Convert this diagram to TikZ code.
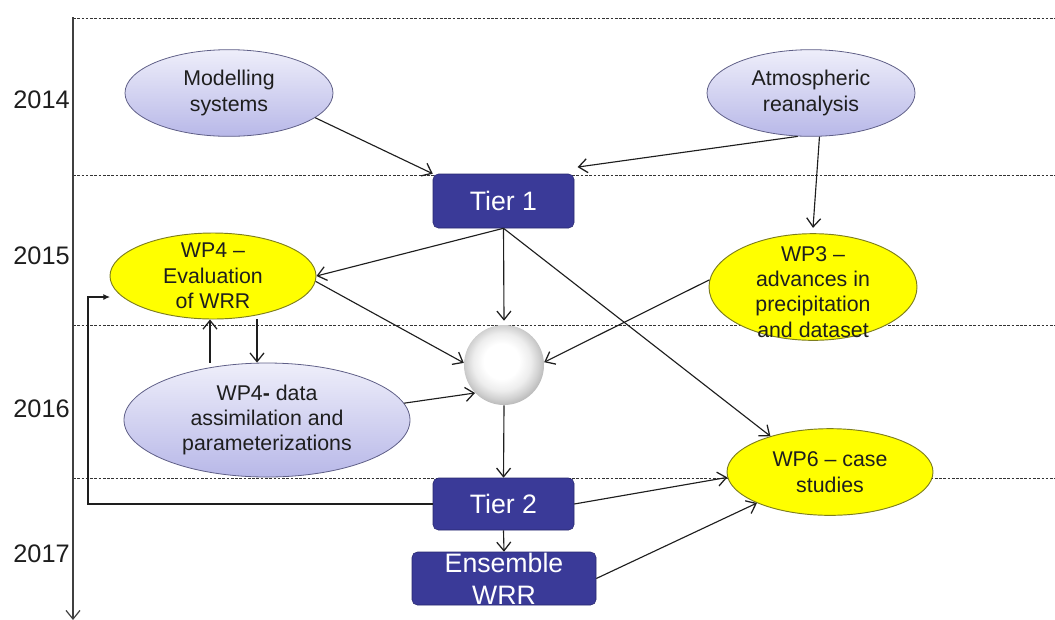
\documentclass[tikz,border=0pt]{standalone}
\usepackage{fontspec}
\setmainfont{Liberation Sans}
\usetikzlibrary{shapes.geometric,arrows.meta,calc}

\definecolor{tierblue}{RGB}{58,58,152}
\definecolor{tierline}{RGB}{40,40,110}
\definecolor{lavtop}{RGB}{238,238,250}
\definecolor{lavbot}{RGB}{184,184,232}
\definecolor{lavline}{RGB}{95,95,135}
\definecolor{wpyellow}{RGB}{255,255,0}
\definecolor{wpline}{RGB}{125,125,30}
\definecolor{ink}{RGB}{30,30,30}

% soft white sphere: white core, pale grey rim (path box = 50bp square)
\pgfdeclareradialshading{softball}{\pgfpoint{-2bp}{3bp}}{%
  color(0bp)=(white); color(11bp)=(white); color(18bp)=(black!7);
  color(23bp)=(black!18); color(26bp)=(black!26); color(50bp)=(black!26)}

\begin{document}
\begin{tikzpicture}[x=0.75pt,y=-0.75pt,
  every node/.style={font=\fontsize{16}{19}\selectfont, text=ink},
  lav/.style={ellipse, draw=lavline, line width=0.6pt, top color=lavtop, bottom color=lavbot, inner sep=0pt},
  wp/.style={ellipse, draw=wpline, line width=0.7pt, fill=wpyellow, inner sep=0pt},
  tier/.style={draw=tierline, fill=tierblue, rounded corners=4pt, inner sep=0pt,
    text=white, font=\fontsize{20}{24}\selectfont, align=center},
  ball/.style={circle, inner sep=0pt, minimum size=60pt, shading=softball},
  grid/.style={dash pattern=on 2pt off 1.2pt, draw=black!80, line width=0.7pt},
  arr/.style={-{Straight Barb[length=6.5pt,width=10.5pt,line width=0.95pt]}, line width=0.85pt, draw=ink},
  fback/.style={-{Latex[length=5pt,width=4.5pt]}, line width=0.8pt, draw=ink},
  axisline/.style={-{Straight Barb[length=6.5pt,width=10.5pt,line width=0.9pt]}, line width=0.8pt, draw=black!75},
  year/.style={font=\fontsize{19}{22}\selectfont, anchor=east, inner sep=0pt},
]
\useasboundingbox (0,0) rectangle (1055,619);

% year bands
\foreach \yy in {18,175,325,478}
  \draw[grid] (73,\yy) -- (1055,\yy);

% time axis
\coordinate (axtop) at (73,17);
\coordinate (axbot) at (73,620);
\draw[axisline] (axtop) -- (axbot);

\node[year] (y14) at (70,100) {2014};
\node[year] (y15) at (70,256) {2015};
\node[year] (y16) at (70,409) {2016};
\node[year] (y17) at (70,554) {2017};

% inputs
\node[lav, minimum width=156pt, minimum height=65pt,
  label={[align=center]center:Modelling\\systems}] (mod) at (229,93) {};
\node[lav, minimum width=156pt, minimum height=65pt,
  label={[align=center]center:Atmospheric\\reanalysis}] (atm) at (811,93) {};

% work packages
\node[wp, minimum width=154.5pt, minimum height=64.5pt,
  label={[align=center]center:WP4 –\\Evaluation\\of WRR}] (wp4) at (213,276) {};
\node[wp, minimum width=156pt, minimum height=80pt,
  label={[align=center, yshift=-3.5pt]center:WP3 –\\advances in\\precipitation\\and dataset}] (wp3) at (813,287) {};
\node[lav, minimum width=214.5pt, minimum height=85.5pt,
  label={[align=center]center:WP4\textbf{-} data\\assimilation and\\parameterizations}] (data) at (267,420) {};
\node[wp, minimum width=154.5pt, minimum height=65pt,
  label={[align=center]center:WP6 – case\\studies}] (wp6) at (830,472) {};

% reanalysis products
\node[tier, minimum width=105.75pt, minimum height=40.5pt] (tier1) at (503.5,201) {Tier 1};
\node[tier, minimum width=105.75pt, minimum height=39pt] (tier2) at (503.5,504) {Tier 2};
\node[tier, minimum width=138pt, minimum height=39.75pt] (ens) at (504,578.5) {Ensemble\\WRR};

% merging step
\node[ball] (hub) at (504,365) {};

% connectors
\draw[arr] (mod.-16) -- (tier1.north west);
\draw[arr] (atm.-107) -- ([shift={(2.5pt,5pt)}]tier1.north east);
\draw[arr] (atm.-79) -- ([yshift=4pt]wp3.north);
\draw[arr] (tier1.south) -- (wp4.east);
\draw[arr] (tier1.south) -- ([yshift=3pt]hub.north);
\draw[arr] (tier1.south) -- (wp6.149);
\draw[arr] (wp4.-3) -- (hub.177);
\draw[arr] (wp3.176) -- (hub.4);
\draw[arr] (data.7) -- (hub.224);
\draw[arr] (hub.south) -- (tier2.north);
\draw[arr] (tier2.east) -- (wp6.183);
\draw[arr] (tier2.south) -- (ens.north);
\draw[arr] (ens.east) -- (wp6.203);
\draw[arr] ([xshift=-42.75pt]data.north) -- ([xshift=-42.75pt]data.north |- wp4.south);
\draw[arr] ([xshift=-7.5pt]data.north |- wp4.south) -- ([xshift=-7.5pt]data.north);

% feedback from Tier 2 to the evaluation
\coordinate (fbtip) at (110,297);
\draw[fback] (tier2.west) -| ([xshift=-16.5pt]fbtip) -- (fbtip);
\end{tikzpicture}
\end{document}
